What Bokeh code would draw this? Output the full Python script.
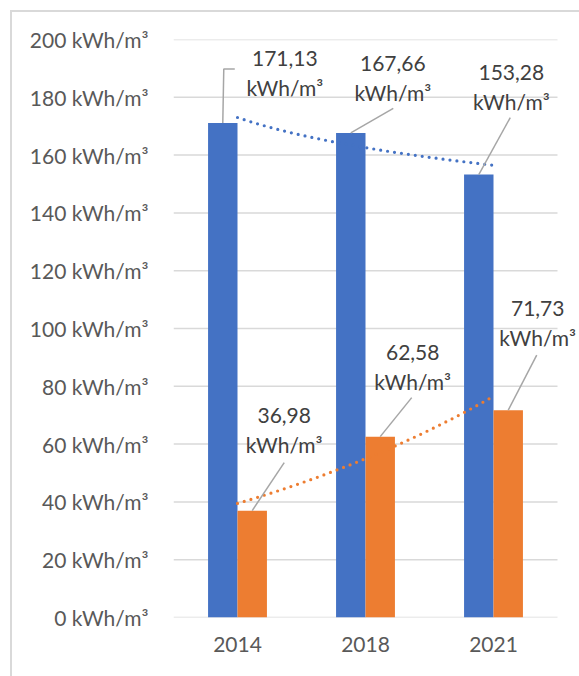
import numpy as np
from bokeh.plotting import figure
from bokeh.models import Range1d, FixedTicker, PrintfTickFormatter, Label
from bokeh.embed import file_html
from bokeh.resources import INLINE

# Energy intensity per year, two series
years = ["2014", "2018", "2021"]
series_blue = [171.13, 167.66, 153.28]
series_orange = [36.98, 62.58, 71.73]
y_ticks = [0, 20, 40, 60, 80, 100, 120, 140, 160, 180, 200]
unit = "kWh/m³"

BLUE = "#4472C4"
ORANGE = "#ED7D31"
GRID = "#D9D9D9"
AXIS_TEXT = "#595959"
LABEL_TEXT = "#404040"
LEADER = "#A6A6A6"
FONT = "Lato"

PX_PER_CAT = 128
N = len(years)
EXTRA_RIGHT = 22 / PX_PER_CAT          # room for labels right of the plot area
FRAME_W = int(round(PX_PER_CAT * (N + EXTRA_RIGHT)))
FRAME_H = 578
Y_MAX = 200
PX_PER_UNIT_Y = FRAME_H / Y_MAX
BAR_W = 0.23

p = figure(
    x_range=Range1d(0, N + EXTRA_RIGHT),
    y_range=Range1d(0, Y_MAX),
    frame_width=FRAME_W, frame_height=FRAME_H,
    min_border_left=161, min_border_top=27, min_border_right=0, min_border_bottom=59,
    output_backend="svg", toolbar_location=None,
    background_fill_color="white", border_fill_color="white",
    outline_line_color=None,
    styles={"margin-left": "10px", "margin-top": "10px",
            "border-left": "2px solid #D9D9D9", "border-top": "2px solid #D9D9D9"},
)

# category centres
centers = np.arange(N) + 0.5
x_blue = centers - BAR_W / 2
x_orange = centers + BAR_W / 2

# horizontal gridlines across the category span
p.segment(x0=[0] * len(y_ticks), x1=[N] * len(y_ticks), y0=y_ticks, y1=y_ticks,
          line_color=GRID, line_width=1.5)

p.vbar(x=x_blue, top=series_blue, width=BAR_W, fill_color=BLUE, line_color=None)
p.vbar(x=x_orange, top=series_orange, width=BAR_W, fill_color=ORANGE, line_color=None)

# trend lines between the first and last category:
# logarithmic for the blue series, exponential for the orange one
idx = np.arange(1, N + 1)
t = np.linspace(1, N, 200)
b, a = np.polyfit(np.log(idx), series_blue, 1)
p.line(t - 0.5, a + b * np.log(t), line_color=BLUE, line_width=3.2,
       line_dash="0 7", line_cap="round")
b, a = np.polyfit(idx, np.log(series_orange), 1)
p.line(t - 0.5, np.exp(a + b * t), line_color=ORANGE, line_width=3.2,
       line_dash="0 7", line_cap="round")

# data labels: block centre offset and leader points, in pixels from the bar top
# (screen pixels, negative = upwards)
label_layout = [
    ((62, -49.5), [(0, 0), (1, -54), (12, -54)]),
    ((42, -55), [(0, 0), (42.5, -24.5)]),
    ((32.5, -88), [(0, 0), (31.5, -57)]),
    ((32, -81), [(0, 0), (32, -48)]),
    ((32.5, -70), [(0, 0), (31.5, -39)]),
    ((29.5, -87.5), [(0, 0), (28.5, -55)]),
]

bar_x = list(x_blue) + list(x_orange)
bar_v = list(series_blue) + list(series_orange)

lead_xs, lead_ys = [], []
for bx, bv, ((dx, dy), pts) in zip(bar_x, bar_v, label_layout):
    lead_xs.append([bx + px / PX_PER_CAT for px, _ in pts])
    lead_ys.append([bv - py / PX_PER_UNIT_Y for _, py in pts])
    for txt, shift in ((f"{bv:.2f}".replace(".", ","), -14.5), (unit, 14.5)):
        p.add_layout(Label(
            x=bx, y=bv, x_offset=dx, y_offset=-(dy + shift), text=txt,
            text_font=FONT, text_font_size="21px", text_color=LABEL_TEXT,
            text_align="center", text_baseline="middle",
        ))

p.multi_line(lead_xs, lead_ys, line_color=LEADER, line_width=1.5)

# axes
p.yaxis.ticker = FixedTicker(ticks=y_ticks)
p.yaxis.formatter = PrintfTickFormatter(format="%d " + unit)
p.yaxis.axis_line_color = None
p.yaxis.major_tick_line_color = None
p.yaxis.minor_tick_line_color = None
p.yaxis.major_tick_out = 0
p.yaxis.major_tick_in = 0
p.yaxis.major_label_standoff = 25
p.yaxis.major_label_text_font = FONT
p.yaxis.major_label_text_font_size = "21px"
p.yaxis.major_label_text_color = AXIS_TEXT

p.xaxis.ticker = FixedTicker(ticks=list(centers))
p.xaxis.major_label_overrides = {float(c): y for c, y in zip(centers, years)}
p.xaxis.axis_line_color = None
p.xaxis.major_tick_line_color = None
p.xaxis.minor_tick_line_color = None
p.xaxis.major_tick_out = 0
p.xaxis.major_tick_in = 0
p.xaxis.major_label_standoff = 19
p.xaxis.major_label_text_font = FONT
p.xaxis.major_label_text_font_size = "21px"
p.xaxis.major_label_text_color = AXIS_TEXT

p.xgrid.grid_line_color = None
p.ygrid.grid_line_color = None

open("out.html", "w").write(file_html(p, INLINE))
